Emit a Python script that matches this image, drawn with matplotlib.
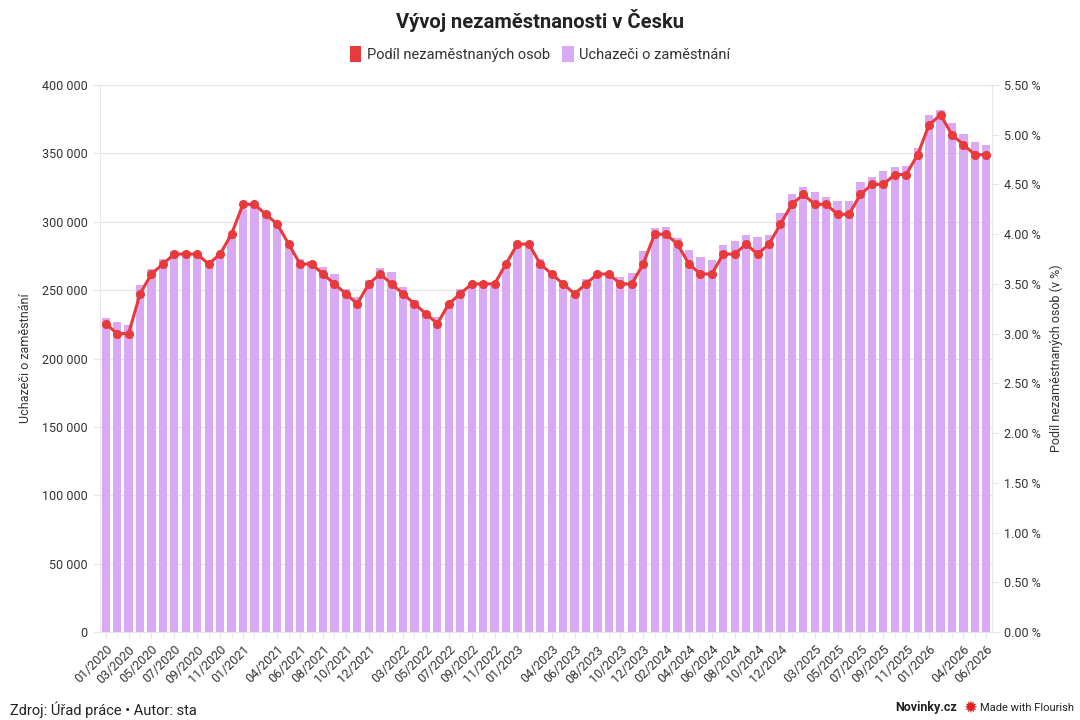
#!/usr/bin/env python
# -*- coding: utf-8 -*-
"""
Vyvoj nezamestnanosti v Cesku - bars (uchazeci) + line (podil)
"""

import matplotlib
matplotlib.use("Agg")
import matplotlib.pyplot as plt
from matplotlib.patches import Patch
from matplotlib.ticker import FuncFormatter, MultipleLocator

plt.rcParams['font.family'] = ['Roboto', 'DejaVu Sans']

# months 01/2020 .. 06/2026
months = [f"{m:02d}/{y}" for y in range(2020, 2027) for m in range(1, 13)][:78]

uchazeci = [229300, 226400, 224600, 253500, 265800, 273000, 278800, 278300, 277600, 270000,
            274100, 289700, 309100, 311600, 304000, 297000, 282800, 272900, 271200, 267200,
            261600, 250700, 245100, 257400, 266300, 263100, 252500, 242900, 234200, 230300,
            241000, 250700, 253200, 253000, 253000, 267200, 283500, 282800, 272900, 264300,
            254400, 246500, 258100, 261300, 261800, 259900, 262600, 278800, 295100, 295800,
            288200, 279600, 273900, 272200, 282800, 286200, 290600, 288700, 290100, 306200,
            320000, 325600, 321500, 317800, 315400, 315100, 329000, 332900, 337300, 340000,
            340700, 353700, 378000, 381500, 372000, 363900, 358300, 355900]

podil = [3.1, 3.0, 3.0, 3.4, 3.6, 3.7, 3.8, 3.8, 3.8, 3.7, 3.8, 4.0,
         4.3, 4.3, 4.2, 4.1, 3.9, 3.7, 3.7, 3.6, 3.5, 3.4, 3.3, 3.5,
         3.6, 3.5, 3.4, 3.3, 3.2, 3.1, 3.3, 3.4, 3.5, 3.5, 3.5, 3.7,
         3.9, 3.9, 3.7, 3.6, 3.5, 3.4, 3.5, 3.6, 3.6, 3.5, 3.5, 3.7,
         4.0, 4.0, 3.9, 3.7, 3.6, 3.6, 3.8, 3.8, 3.9, 3.8, 3.9, 4.1,
         4.3, 4.4, 4.3, 4.3, 4.2, 4.2, 4.4, 4.5, 4.5, 4.6, 4.6, 4.8,
         5.1, 5.2, 5.0, 4.9, 4.8, 4.8]

shown_labels = ["01/2020", "03/2020", "05/2020", "07/2020", "09/2020", "11/2020",
                "01/2021", "04/2021", "06/2021", "08/2021", "10/2021", "12/2021",
                "03/2022", "05/2022", "07/2022", "09/2022", "11/2022",
                "01/2023", "04/2023", "06/2023", "08/2023", "10/2023", "12/2023",
                "02/2024", "04/2024", "06/2024", "08/2024", "10/2024", "12/2024",
                "03/2025", "05/2025", "07/2025", "09/2025", "11/2025",
                "01/2026", "04/2026", "06/2026"]

bar_col = "#d9a9f3"
line_col = "#e8393b"
txt_col = "#333333"
grid_col = "#e6e6e6"

x = list(range(len(months)))

fig = plt.figure(figsize=(10.8, 7.2), dpi=100)
ax = fig.add_axes([100/1080, 1 - 632/720, 892/1080, 547/720])

ax.bar(x, uchazeci, width=0.72, color=bar_col, zorder=2)
ax.set_xlim(-0.5, len(months) - 0.5)
ax.set_ylim(0, 400000)
ax.yaxis.set_major_locator(MultipleLocator(50000))
ax.yaxis.set_major_formatter(FuncFormatter(lambda v, p: f"{int(v):,}".replace(",", " ")))
ax.grid(axis='y', color=grid_col, linewidth=1, zorder=0)
ax.set_axisbelow(True)

ax.set_xticks(x, minor=True)
ax.set_xticks([months.index(s) for s in shown_labels])
ax.set_xticklabels(shown_labels, rotation=45, ha='right', rotation_mode='anchor',
                   fontsize=9, color=txt_col)
ax.tick_params(axis='x', which='both', length=4, color=grid_col, pad=4)
ax.tick_params(axis='y', length=5, color=grid_col, labelsize=9, labelcolor=txt_col, pad=4)
ax.set_ylabel("Uchazeči o zaměstnání", fontsize=9, color=txt_col, labelpad=7)

for s in ['top', 'right']:
    ax.spines[s].set_visible(False)
for s in ['left', 'bottom']:
    ax.spines[s].set_color(grid_col)

ax2 = ax.twinx()
ax2.plot(x, podil, color=line_col, linewidth=2.2, marker='o', markersize=5.5, zorder=3)
ax2.set_ylim(0, 5.5)
ax2.yaxis.set_major_locator(MultipleLocator(0.5))
ax2.yaxis.set_major_formatter(FuncFormatter(lambda v, p: f"{v:.2f} %"))
ax2.tick_params(axis='y', length=5, color=grid_col, labelsize=9, labelcolor=txt_col, pad=4)
ax2.set_ylabel("Podíl nezaměstnaných osob (v %)", fontsize=9, color=txt_col, labelpad=6)
for s in ['top', 'left', 'bottom']:
    ax2.spines[s].set_visible(False)
ax2.spines['right'].set_color(grid_col)

fig.text(0.5, 0.972, "Vývoj nezaměstnanosti v Česku", ha='center', va='center',
         fontsize=14.5, fontweight='bold', color="#222222")

handles = [Patch(facecolor=line_col, label="Podíl nezaměstnaných osob"),
           Patch(facecolor=bar_col, label="Uchazeči o zaměstnání")]
fig.legend(handles=handles, loc='center', bbox_to_anchor=(0.5, 0.925), ncol=2,
           frameon=False, fontsize=10.5, handlelength=0.8, handleheight=1.3,
           handletextpad=0.4, columnspacing=0.8, labelcolor=txt_col)

fig.text(10/1080, 1 - 710/720, "Zdroj: Úřad práce • Autor: sta", ha='left', va='center',
         fontsize=10.5, color="#222222")
fig.text(957/1080, 1 - 708/720, "Novinky.cz", ha='right', va='center',
         fontsize=9, fontweight='bold', color="#222222")
fig.text(970/1080, 1 - 708/720, "✹", ha='center', va='center', fontsize=12,
         color="#e02020", family=['DejaVu Sans'])
fig.text(980/1080, 1 - 708/720, "Made with Flourish", ha='left', va='center',
         fontsize=8, color="#222222")

fig.savefig("out.png", dpi=100)
